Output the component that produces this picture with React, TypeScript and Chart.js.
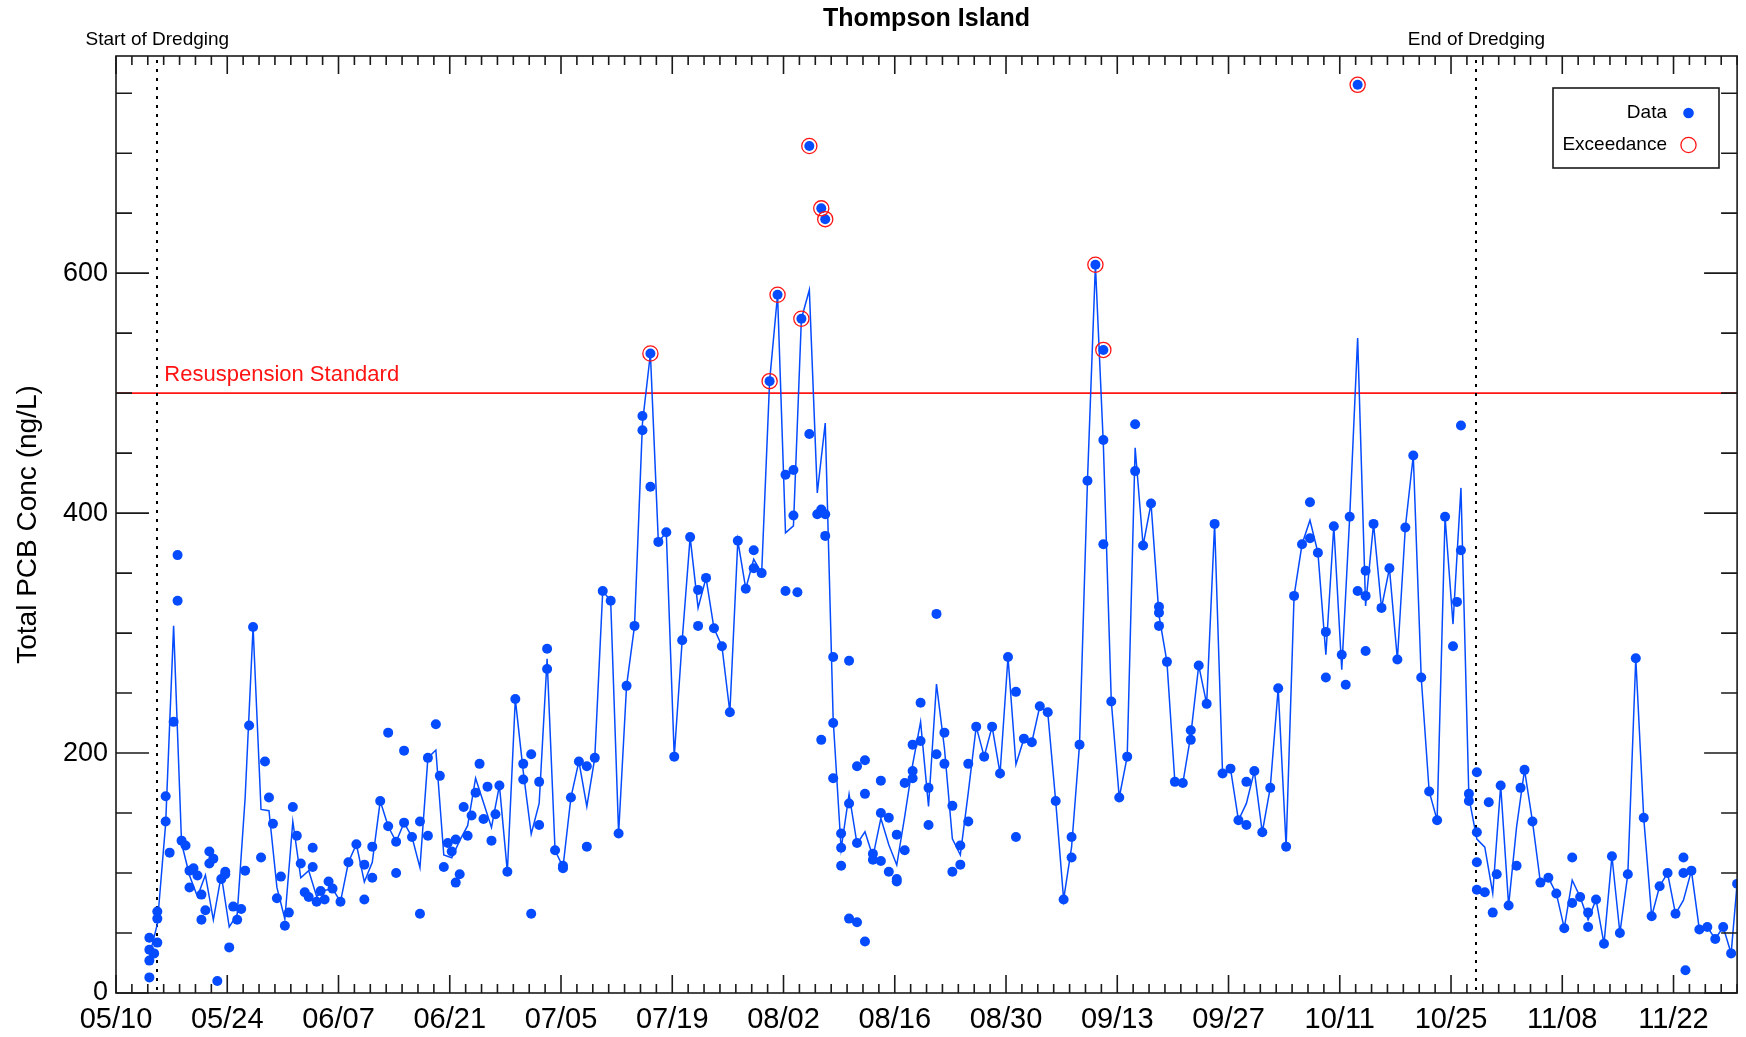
import React, { useEffect, useRef } from 'react';
import { Chart, registerables } from 'chart.js';

Chart.register(...registerables);

const FONT = '"Liberation Sans", Arial, Helvetica, sans-serif';
const BLUE = 'rgb(5,75,255)';
const RED = 'rgb(255,20,20)';

// x axis: days since 05/10
const xTickLabels = ['05/10', '05/24', '06/07', '06/21', '07/05', '07/19', '08/02', '08/16', '08/30', '09/13', '09/27', '10/11', '10/25', '11/08', '11/22'];
const xTickStepDays = 14;
const xMaxDay = 204;
const yTickValues = [0, 200, 400, 600];
const yMax = 781;
const standardValue = 500;
const dredgeStartDay = 5.2;
const dredgeEndDay = 171.2;

// [days since 05/10, Total PCB ng/L] — samples that make up the daily average line
const maySamples: [number, number][] = [
  [4.2, 46], [4.2, 36], [4.2, 27], [4.2, 13], [4.8, 33], [5.2, 68], [5.2, 62], [5.2, 42],
  [6.25, 164], [6.25, 143], [6.75, 117], [7.25, 226], [7.75, 365], [7.75, 327], [8.25, 127], [8.75, 123],
  [9.25, 102], [9.25, 88], [9.75, 104], [10.25, 98], [10.75, 82], [10.75, 61], [11.25, 69], [11.75, 118],
  [11.75, 108], [12.25, 112], [12.75, 10], [13.25, 95], [13.75, 101], [13.75, 99], [14.25, 38], [14.75, 72],
  [15.25, 61], [15.75, 70], [16.25, 102], [16.75, 223], [17.25, 305], [18.25, 113], [18.75, 193], [19.25, 163],
  [19.75, 141], [20.25, 79], [20.75, 97], [21.25, 56], [21.75, 67],
];

const juneSamples: [number, number][] = [
  [22.25, 155], [22.75, 131], [23.25, 108], [23.75, 84], [24.25, 80], [24.75, 121], [24.75, 105], [25.25, 76],
  [25.75, 85], [26.25, 78], [26.75, 93], [27.25, 87], [28.25, 76], [29.25, 109], [30.25, 124], [31.25, 107],
  [31.25, 78], [32.25, 122], [32.25, 96], [33.25, 160], [34.25, 139], [35.25, 126],
  [36.25, 142], [37.25, 130], [38.25, 143], [38.25, 66], [39.25, 196], [40.25, 224],
  [40.75, 181], [41.25, 105], [41.75, 125], [42.25, 118], [42.75, 92], [42.75, 128], [43.25, 99], [43.75, 155],
  [44.25, 131], [44.75, 148], [45.25, 167], [45.75, 191], [46.25, 145], [46.75, 172], [47.25, 127], [47.75, 149],
  [48.25, 173], [49.25, 101], [50.25, 245], [51.25, 191], [51.25, 178],
];

const julySamples: [number, number][] = [
  [52.25, 199], [52.25, 66], [53.25, 140], [53.25, 176], [54.25, 287], [54.25, 270], [55.25, 119], [56.25, 106],
  [56.25, 104], [57.25, 163], [58.25, 193], [59.25, 189], [59.25, 122], [60.25, 196], [61.25, 335], [62.25, 327],
  [63.25, 133], [64.25, 256], [65.25, 306], [66.25, 469], [66.25, 481], [67.25, 533], [68.25, 376],
  [69.25, 384], [70.25, 197], [71.25, 294], [72.25, 380], [73.25, 336], [73.25, 306], [74.25, 346], [75.25, 304],
  [76.25, 289], [77.25, 234], [78.25, 377], [79.25, 337], [80.25, 369], [80.25, 354], [81.25, 350], [82.25, 510],
];

const augustSamples: [number, number][] = [
  [83.25, 582], [84.25, 432], [84.25, 335], [85.25, 436], [85.25, 398], [85.75, 334], [86.25, 562], [87.25, 706],
  [87.25, 466], [88.25, 399], [88.75, 654], [88.75, 403], [88.75, 211], [89.25, 645], [89.25, 399], [89.25, 381],
  [90.25, 280], [90.25, 225], [90.25, 179], [91.25, 133], [91.25, 121], [91.25, 106], [92.25, 277], [92.25, 158],
  [92.25, 62], [93.25, 59], [93.25, 189], [93.25, 125], [94.25, 194], [94.25, 166], [94.25, 43], [95.25, 116],
  [95.25, 111], [96.25, 177], [96.25, 150], [96.25, 110], [97.25, 146], [97.25, 101], [98.25, 132], [98.25, 95],
  [98.25, 93], [99.25, 175], [99.25, 119], [100.25, 207], [100.25, 185], [100.25, 179], [101.25, 242], [101.25, 210],
  [102.25, 171], [102.25, 140], [103.25, 316], [103.25, 199], [104.25, 217], [104.25, 191], [105.25, 156], [105.25, 101],
  [106.25, 123], [106.25, 107], [107.25, 191], [107.25, 143], [108.25, 222], [109.25, 197], [110.25, 222], [111.25, 183],
  [112.25, 280], [113.25, 251], [113.25, 130],
];

const septemberSamples: [number, number][] = [
  [114.25, 212], [115.25, 209], [116.25, 239], [117.25, 234], [118.25, 160], [119.25, 78], [120.25, 130], [120.25, 113],
  [121.25, 207], [122.25, 427], [123.25, 607], [124.25, 536], [124.25, 461], [124.25, 374], [125.25, 243], [126.25, 163],
  [127.25, 197], [128.25, 474], [128.25, 435], [129.25, 373], [130.25, 408], [131.25, 322], [131.25, 317], [131.25, 306],
  [132.25, 276], [133.25, 176], [134.25, 175], [135.25, 219], [135.25, 211], [136.25, 273], [137.25, 241], [138.25, 391],
  [139.25, 183], [140.25, 187], [141.25, 144], [142.25, 176], [142.25, 140], [143.25, 185],
];

const octoberSamples: [number, number][] = [
  [144.25, 134], [145.25, 171], [146.25, 254], [147.25, 122], [148.25, 331], [149.25, 374], [150.25, 409], [150.25, 379],
  [151.25, 367], [152.25, 263], [152.25, 301], [153.25, 389], [154.25, 282], [154.75, 257], [155.25, 397], [156.25, 757],
  [156.25, 335], [157.25, 352], [157.25, 331], [157.25, 285], [158.25, 391], [159.25, 321], [160.25, 354], [161.25, 278],
  [162.25, 388], [163.25, 448], [164.25, 263], [165.25, 168], [166.25, 144], [167.25, 397], [168.25, 289], [168.75, 326],
  [169.25, 473], [169.25, 369], [170.25, 166], [170.25, 160], [171.25, 184], [171.25, 134], [171.25, 109], [171.25, 86],
  [172.25, 84], [172.75, 159], [173.25, 67], [173.75, 99], [174.25, 173],
];

const novemberSamples: [number, number][] = [
  [175.25, 73], [176.25, 106], [176.75, 171], [177.25, 186], [178.25, 143], [179.25, 92], [180.25, 96], [181.25, 83],
  [182.25, 54], [183.25, 113], [183.25, 75], [184.25, 80], [185.25, 67], [185.25, 55], [186.25, 78], [187.25, 41],
  [188.25, 114], [189.25, 50], [190.25, 99], [191.25, 279], [192.25, 146], [193.25, 64], [194.25, 89], [195.25, 100],
  [196.25, 66], [197.25, 113], [197.25, 100], [197.5, 19], [198.25, 102], [199.25, 53], [200.25, 55], [201.25, 45],
  [202.25, 55], [203.25, 33], [204, 91],
];

// plotted samples that the daily average line does not pass through
const extraSamples: [number, number][] = [
  [34.25, 217], [35.25, 100], [36.25, 202], [39.25, 131], [67.25, 422],
];

const lineSamples = [
  ...maySamples, ...juneSamples, ...julySamples, ...augustSamples,
  ...septemberSamples, ...octoberSamples, ...novemberSamples,
];
const allSamples = [...lineSamples, ...extraSamples];

function dailyMeans(samples: [number, number][]) {
  const groups = new Map<number, { x: number; sum: number; n: number }>();
  for (const [d, v] of samples) {
    const k = Math.floor(d);
    const g = groups.get(k);
    if (!g) groups.set(k, { x: d, sum: v, n: 1 });
    else { g.x = Math.min(g.x, d); g.sum += v; g.n += 1; }
  }
  return [...groups.values()].sort((a, b) => a.x - b.x).map((g) => ({ x: g.x, y: g.sum / g.n }));
}

const decorPlugin = {
  id: 'decor',
  beforeDatasetsDraw(chart: any) {
    const { ctx, chartArea: a, scales } = chart;
    const x = scales.x, y = scales.y;
    ctx.save();
    const ys = y.getPixelForValue(standardValue);
    ctx.strokeStyle = RED;
    ctx.lineWidth = 1.7;
    ctx.beginPath();
    ctx.moveTo(a.left, ys);
    ctx.lineTo(a.right, ys);
    ctx.stroke();
    ctx.fillStyle = RED;
    ctx.font = `22px ${FONT}`;
    ctx.textAlign = 'left';
    ctx.textBaseline = 'alphabetic';
    ctx.fillText('Resuspension Standard', x.getPixelForValue(dredgeStartDay) + 7, ys - 12);
    ctx.setLineDash([3, 6]);
    ctx.strokeStyle = '#000';
    ctx.lineWidth = 2;
    for (const d of [dredgeStartDay, dredgeEndDay]) {
      const px = Math.round(x.getPixelForValue(d));
      ctx.beginPath();
      ctx.moveTo(px, a.top + 4);
      ctx.lineTo(px, a.bottom);
      ctx.stroke();
    }
    ctx.restore();
  },
  afterDraw(chart: any) {
    const { ctx, chartArea: a, scales } = chart;
    const x = scales.x, y = scales.y;
    ctx.save();
    ctx.strokeStyle = '#1a1a1a';
    ctx.lineWidth = 1.6;
    ctx.strokeRect(a.left, a.top, a.right - a.left, a.bottom - a.top);
    ctx.beginPath();
    for (let d = 0; d <= xMaxDay; d += 2) {
      const px = x.getPixelForValue(d);
      const len = d % xTickStepDays === 0 ? 18 : 9;
      ctx.moveTo(px, a.bottom); ctx.lineTo(px, a.bottom - len);
      ctx.moveTo(px, a.top); ctx.lineTo(px, a.top + len);
    }
    for (let v = 0; v <= yMax; v += 50) {
      const py = y.getPixelForValue(v);
      const len = v % 200 === 0 ? 33 : 16;
      ctx.moveTo(a.left, py); ctx.lineTo(a.left + len, py);
      ctx.moveTo(a.right, py); ctx.lineTo(a.right - len, py);
    }
    ctx.stroke();

    const cx = (a.left + a.right) / 2;
    ctx.fillStyle = '#000';
    ctx.textAlign = 'center';
    ctx.textBaseline = 'middle';
    ctx.font = `bold 25px ${FONT}`;
    ctx.fillText('Thompson Island', cx, 19);
    ctx.font = `19px ${FONT}`;
    ctx.fillText('Start of Dredging', x.getPixelForValue(dredgeStartDay), 40);
    ctx.fillText('End of Dredging', x.getPixelForValue(dredgeEndDay), 40);

    ctx.save();
    ctx.translate(28, (a.top + a.bottom) / 2);
    ctx.rotate(-Math.PI / 2);
    ctx.font = `28px ${FONT}`;
    ctx.fillText('Total PCB Conc (ng/L)', 0, 0);
    ctx.restore();

    // legend
    const lx = 1553, ly = 88, lw = 166, lh = 80;
    ctx.strokeStyle = '#1a1a1a';
    ctx.lineWidth = 1.6;
    ctx.strokeRect(lx, ly, lw, lh);
    ctx.font = `19px ${FONT}`;
    ctx.textAlign = 'right';
    ctx.fillStyle = '#000';
    ctx.fillText('Data', 1667, 113);
    ctx.fillText('Exceedance', 1667, 145);
    ctx.fillStyle = BLUE;
    ctx.beginPath();
    ctx.arc(1688.5, 113, 5.3, 0, Math.PI * 2);
    ctx.fill();
    ctx.strokeStyle = RED;
    ctx.lineWidth = 1.3;
    ctx.beginPath();
    ctx.arc(1688.5, 145, 7.6, 0, Math.PI * 2);
    ctx.stroke();
    ctx.restore();
  },
};

export default function App() {
  const canvasRef = useRef<HTMLCanvasElement | null>(null);

  useEffect(() => {
    const canvas = canvasRef.current;
    if (!canvas) return;
    const points = allSamples.map(([d, v]) => ({ x: d, y: v }));
    const exceed = points.filter((p) => p.y > standardValue);
    const means = dailyMeans(lineSamples);

    const chart = new Chart(canvas, {
      type: 'scatter',
      data: {
        datasets: [
          {
            label: 'Exceedance',
            data: exceed,
            pointStyle: 'circle',
            pointRadius: 7.6,
            pointBackgroundColor: 'rgba(0,0,0,0)',
            pointBorderColor: RED,
            pointBorderWidth: 1.3,
            showLine: false,
            order: 0,
            clip: 0,
          } as any,
          {
            label: 'Data',
            data: points,
            pointRadius: 5,
            pointBackgroundColor: BLUE,
            pointBorderWidth: 0,
            showLine: false,
            order: 1,
            clip: 0,
          } as any,
          {
            label: 'Daily average',
            data: means,
            showLine: true,
            borderColor: BLUE,
            borderWidth: 1.5,
            pointRadius: 0,
            order: 2,
            clip: 0,
          } as any,
        ],
      },
      options: {
        animation: false,
        responsive: false,
        events: [],
        layout: { padding: { top: 56, right: 7, left: 0, bottom: 0 } },
        plugins: {
          legend: { display: false },
          tooltip: { enabled: false },
          title: { display: false },
        },
        scales: {
          x: {
            type: 'linear',
            min: 0,
            max: xMaxDay,
            grid: { display: false, drawTicks: false },
            border: { display: false },
            ticks: {
              font: { family: FONT, size: 29 },
              color: '#000',
              padding: 10,
              maxRotation: 0,
              autoSkip: false,
              callback: (v: any) => xTickLabels[Math.round(Number(v) / xTickStepDays)] ?? '',
            },
            afterBuildTicks: (s: any) => {
              s.ticks = xTickLabels.map((_, i) => ({ value: i * xTickStepDays }));
            },
            afterFit: (s: any) => { s.height = 44; },
          },
          y: {
            type: 'linear',
            min: 0,
            max: yMax,
            grid: { display: false, drawTicks: false },
            border: { display: false },
            ticks: {
              font: { family: FONT, size: 27 },
              color: '#000',
              padding: 8,
            },
            afterBuildTicks: (s: any) => {
              s.ticks = yTickValues.map((v) => ({ value: v }));
            },
            afterFit: (s: any) => { s.width = 116; },
          },
        },
      } as any,
      plugins: [decorPlugin],
    });
    return () => chart.destroy();
  }, []);

  return (
    <div style={{ position: 'fixed', left: 0, top: 0, width: 1746, height: 1037, background: '#fff' }}>
      <canvas ref={canvasRef} width={1746} height={1037} style={{ display: 'block' }} />
    </div>
  );
}
